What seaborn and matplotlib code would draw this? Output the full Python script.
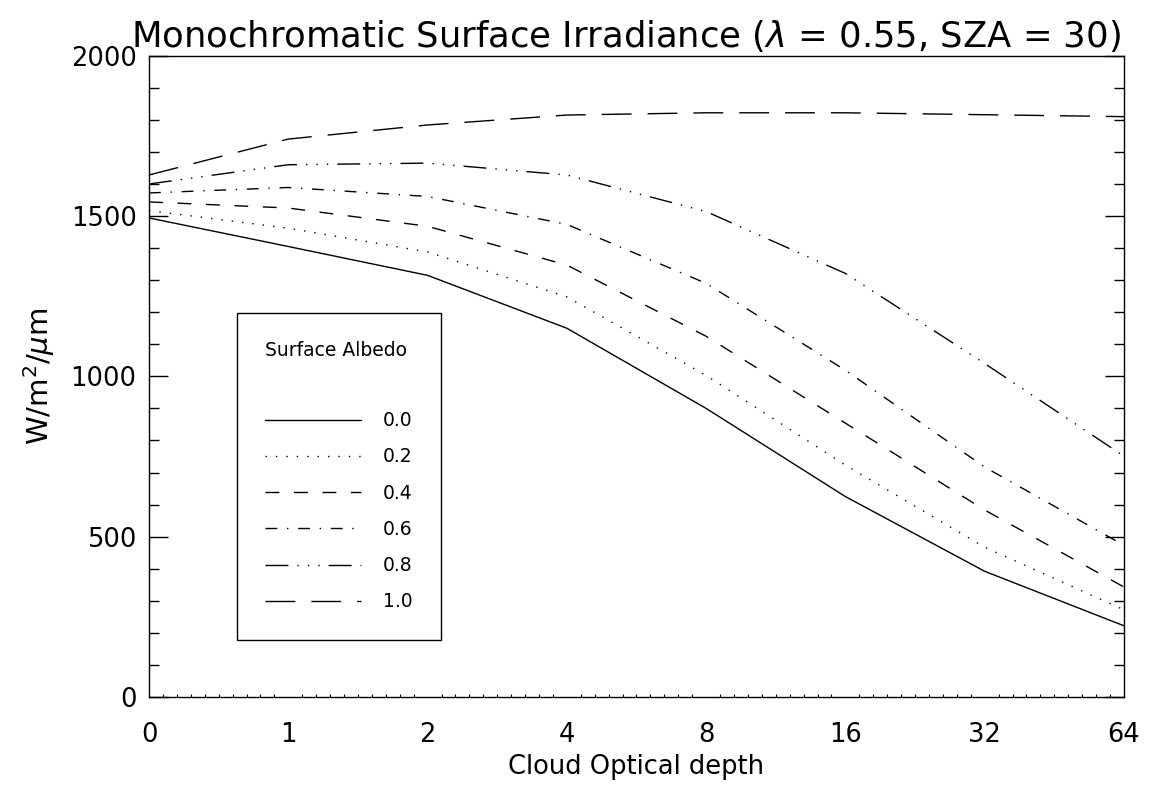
import numpy as np
import pandas as pd
import seaborn as sns
import matplotlib.pyplot as plt
from matplotlib.ticker import MultipleLocator

# cloud optical depth categories (equally spaced on the plot)
depth_labels = ["0", "1", "2", "4", "8", "16", "32", "64"]

# surface irradiance (W/m2/um) for each surface albedo
irr_a00 = [1494, 1405, 1315, 1150, 900, 625, 392, 222]
irr_a02 = [1517, 1462, 1388, 1248, 1003, 723, 467, 272]
irr_a04 = [1544, 1525, 1468, 1347, 1125, 854, 583, 343]
irr_a06 = [1572, 1589, 1561, 1474, 1290, 1019, 717, 473]
irr_a08 = [1600, 1660, 1665, 1628, 1514, 1321, 1040, 751]
irr_a10 = [1628, 1740, 1784, 1815, 1822, 1822, 1816, 1810]

albedo_labels = ["0.0", "0.2", "0.4", "0.6", "0.8", "1.0"]
series = [irr_a00, irr_a02, irr_a04, irr_a06, irr_a08, irr_a10]

# IDL style linestyles (in points)
styles = [
    "-",
    (0, (1, 6.5)),
    (0, (10, 10.5)),
    (0, (8.5, 7, 1, 7)),
    (0, (16.5, 6.5, 1, 6.5, 1, 6.5, 1, 6.5)),
    (0, (21.5, 11.5)),
]

sns.set_style("white")
plt.rcParams["font.family"] = ["DejaVu Sans"]
plt.rcParams["text.color"] = "black"
plt.rcParams["axes.labelcolor"] = "black"
plt.rcParams["xtick.color"] = "black"
plt.rcParams["ytick.color"] = "black"

fig = plt.figure(figsize=(11.49, 7.87), dpi=100)
ax = fig.add_axes([0.1297, 0.1144, 0.8485, 0.8148])

pos = np.arange(len(depth_labels))
for lab, vals, ls in zip(albedo_labels, series, styles):
    df = pd.DataFrame({"depth": pos, "irr": vals})
    sns.lineplot(data=df, x="depth", y="irr", ax=ax, color="black",
                 linewidth=1.0, linestyle=ls, label=lab)

ax.set_xlim(0, len(depth_labels) - 1)
ax.set_ylim(0, 2000)
ax.set_xticks(pos)
ax.set_xticklabels(depth_labels)
ax.xaxis.set_minor_locator(MultipleLocator(0.1))
ax.set_yticks([0, 500, 1000, 1500, 2000])
ax.yaxis.set_minor_locator(MultipleLocator(100))

ax.tick_params(axis="x", which="major", direction="in", length=5, width=1,
               labelsize=18.5, pad=18, top=False)
ax.tick_params(axis="x", which="minor", direction="in", length=2, width=0.8,
               top=False, bottom=True)
ax.tick_params(axis="y", which="major", direction="in", length=14, width=1,
               labelsize=18.5, pad=9, left=True, right=True)
ax.tick_params(axis="y", which="minor", direction="in", length=7, width=1,
               left=True, right=True)

for sp in ax.spines.values():
    sp.set_color("black")
    sp.set_linewidth(1.0)

ax.set_xlabel("Cloud Optical depth", fontsize=18.5, labelpad=4)
ax.set_ylabel(r"W/m$^2$/$\mu$m", fontsize=21, labelpad=10)
ax.set_title("Monochromatic Surface Irradiance ($\\lambda$ = 0.55, SZA = 30)",
             fontsize=25.5, pad=6, x=0.4887)

leg = ax.legend(title="Surface Albedo\n", loc="upper left",
                bbox_to_anchor=(0.09, 0.599), borderaxespad=0,
                fontsize=13.5, title_fontsize=13.5, frameon=True,
                fancybox=False, edgecolor="black", framealpha=1,
                handlelength=5.1, handletextpad=1.2, labelspacing=0.92,
                borderpad=1.5, alignment="left")
leg.get_title().set_linespacing(2.0)
leg.get_frame().set_linewidth(1.0)

fig.savefig("out.png", dpi=100)
